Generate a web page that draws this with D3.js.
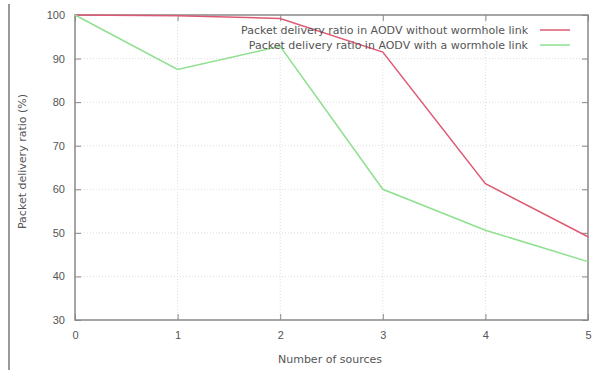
<!DOCTYPE html>
<html>
<head>
<meta charset="utf-8">
<script src="https://cdn.jsdelivr.net/npm/d3@7"></script>
<style>
  body { margin: 0; background: #fff; }
  svg { display: block; font-family: "DejaVu Sans", sans-serif; }
</style>
</head>
<body>
<svg width="592" height="370"></svg>
<script>
// data
const sources = [0, 1, 2, 3, 4, 5];
const withoutWormhole = [100, 99.8, 99.2, 91.5, 61.3, 49.1];
const withWormhole = [100, 87.5, 92.8, 60, 50.6, 43.4];
const seriesNames = [
  'Packet delivery ratio in AODV without wormhole link',
  'Packet delivery ratio in AODV with a wormhole link'
];
const seriesColors = ['#de5a74', '#8fe08f'];
const yTicks = [30, 40, 50, 60, 70, 80, 90, 100];

const margin = { top: 15, right: 4, bottom: 50, left: 75 },
      width = 592 - margin.left - margin.right,
      height = 370 - margin.top - margin.bottom;

const svg = d3.select('svg');

// grey rule on the far left
svg.append('line')
  .attr('x1', 9).attr('x2', 9).attr('y1', 4).attr('y2', 370)
  .attr('stroke', '#999').attr('stroke-width', 2);

const g = svg.append('g').attr('transform', 'translate(' + margin.left + ',' + margin.top + ')');

const x = d3.scaleLinear().domain([0, 5]).range([0, width]);
const y = d3.scaleLinear().domain([30, 100]).range([height, 0]);

// grid
g.append('g').selectAll('line')
  .data(yTicks.slice(1, -1))
  .enter().append('line')
  .attr('x1', 0).attr('x2', width)
  .attr('y1', d => y(d)).attr('y2', d => y(d))
  .attr('stroke', '#ddd').attr('stroke-dasharray', '1,2');
g.append('g').selectAll('line')
  .data(sources.slice(1, -1))
  .enter().append('line')
  .attr('y1', 0).attr('y2', height)
  .attr('x1', d => x(d)).attr('x2', d => x(d))
  .attr('stroke', '#ddd').attr('stroke-dasharray', '1,2');

// axes (inward ticks, mirrored)
g.append('g')
  .call(d3.axisLeft(y).tickValues(yTicks).tickSize(-6).tickPadding(10));
g.append('g')
  .attr('transform', 'translate(0,' + height + ')')
  .call(d3.axisBottom(x).tickValues(sources).tickSize(-6).tickPadding(11).tickFormat(d3.format('d')));
g.append('g')
  .attr('transform', 'translate(' + width + ',0)')
  .call(d3.axisRight(y).tickValues(yTicks).tickSize(-6).tickFormat(''));
g.append('g')
  .call(d3.axisTop(x).tickValues(sources).tickSize(-6).tickFormat(''));

g.selectAll('.domain').remove();
g.selectAll('.tick line').attr('stroke', '#888');
g.selectAll('.tick text').attr('fill', '#555').style('font-size', '11px');

// border
g.append('rect')
  .attr('width', width).attr('height', height)
  .attr('fill', 'none').attr('stroke', '#888').attr('stroke-width', 1.5);

// lines
const line = d3.line()
  .x((d, i) => x(sources[i]))
  .y(d => y(d));

[withoutWormhole, withWormhole].forEach((vals, i) => {
  g.append('path')
    .datum(vals)
    .attr('fill', 'none')
    .attr('stroke', seriesColors[i])
    .attr('stroke-width', 1.5)
    .attr('d', line);
});

// legend
const legend = g.append('g').attr('transform', 'translate(' + (width - 60) + ',15)');
seriesNames.forEach((name, i) => {
  legend.append('text')
    .attr('x', 0).attr('y', i * 15)
    .attr('dy', '0.35em')
    .attr('text-anchor', 'end')
    .attr('fill', '#555')
    .style('font-size', '11px')
    .text(name);
  legend.append('line')
    .attr('x1', 12).attr('x2', 42)
    .attr('y1', i * 15).attr('y2', i * 15)
    .attr('stroke', seriesColors[i]).attr('stroke-width', 1.5);
});

// axis titles
g.append('text')
  .attr('transform', 'rotate(-90)')
  .attr('x', 0 - (height / 2) + 6)
  .attr('y', -49)
  .style('text-anchor', 'middle')
  .attr('fill', '#555')
  .style('font-size', '11px')
  .text('Packet delivery ratio (%)');

g.append('text')
  .attr('x', 255)
  .attr('y', height + 43)
  .style('text-anchor', 'middle')
  .attr('fill', '#555')
  .style('font-size', '11px')
  .text('Number of sources');
</script>
</body>
</html>
